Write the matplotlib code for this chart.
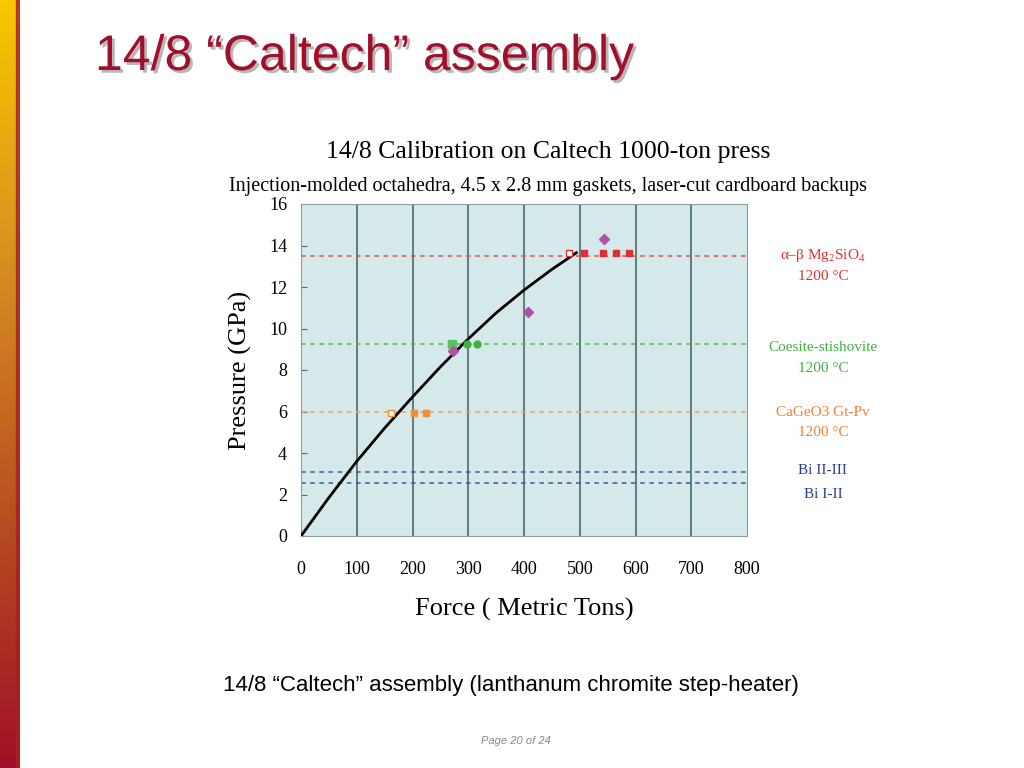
import numpy as np
import matplotlib
matplotlib.use("Agg")
import matplotlib.pyplot as plt
import matplotlib.patheffects as pe

# calibration curve (force in tons, pressure in GPa)
curve_force = [0, 50, 100, 150, 200, 250, 300, 350, 400, 450, 494]
curve_press = [0, 1.85, 3.6, 5.2, 6.7, 8.15, 9.5, 10.75, 11.85, 12.85, 13.65]

# fixed-point pressures (dashed lines)
line_press = [13.5, 9.25, 6.0, 3.1, 2.55]
line_colors = ["#e05050", "#4cb84c", "#f0a050", "#3a5a9c", "#3a5a9c"]

# experiments
mg_open_x, mg_open_y = [480], [13.62]
mg_fill_x = [507, 541, 565, 588]
mg_fill_y = [13.62, 13.62, 13.62, 13.62]
coe_x = [271, 297, 316]
coe_y = [9.27, 9.25, 9.25]
cage_open_x, cage_open_y = [162], [5.95]
cage_fill_x = [202, 225]
cage_fill_y = [5.95, 5.95]
dia_x = [272, 408, 543]
dia_y = [8.9, 10.8, 14.3]

x_ticks = [0, 100, 200, 300, 400, 500, 600, 700, 800]
y_ticks = [0, 2, 4, 6, 8, 10, 12, 14, 16]

serif = ["Liberation Serif", "DejaVu Serif"]
sans = ["Liberation Sans", "DejaVu Sans"]

matplotlib.rcParams["mathtext.fontset"] = "custom"
matplotlib.rcParams["mathtext.rm"] = "Liberation Serif"

fig = plt.figure(figsize=(10.24, 7.68), dpi=100)
fig.patch.set_facecolor("white")

# left gradient bar
bar = fig.add_axes([0, 0, 20 / 1024, 1])
grad = np.linspace(0, 1, 256).reshape(-1, 1)
cmap = matplotlib.colors.LinearSegmentedColormap.from_list("g", ["#f7c800", "#d89020", "#b85020", "#a01028"])
bar.imshow(grad, aspect="auto", cmap=cmap, extent=[0, 20, 0, 1])
bar.axvspan(16, 20, color="#a82020", alpha=0.8)
bar.set_xlim(0, 20)
bar.axis("off")

# slide title
fig.text(95 / 1024, 1 - 57 / 768, "14/8 \u201cCaltech\u201d assembly", family=sans,
         fontsize=36, color="#a0102a", ha="left", va="center",
         path_effects=[pe.withSimplePatchShadow(offset=(2, -2), shadow_rgbFace="#999999", alpha=0.7)])

ax = fig.add_axes([301 / 1024, 1 - 536 / 768, 446 / 1024, 332 / 768])
ax.set_facecolor("#d5e9ea")
ax.set_xlim(0, 800)
ax.set_ylim(0, 16)

for xv in x_ticks[1:-1]:
    ax.axvline(xv, color="#4a6a6a", lw=1.2, zorder=1)

for yv, c in zip(line_press, line_colors):
    ax.axhline(yv, color=c, lw=1.1, ls=(0, (3, 3)), zorder=2)

ax.plot(curve_force, curve_press, color="black", lw=2, zorder=3)

ax.plot(mg_open_x, mg_open_y, "s", ms=5, mfc="white", mec="#e03030", zorder=4)
ax.plot(mg_fill_x, mg_fill_y, "s", ms=5, color="#e03030", zorder=4)
ax.plot(coe_x[:1], coe_y[:1], "s", ms=6, color="#5cc05c", zorder=4)
ax.plot(coe_x[1:], coe_y[1:], "o", ms=5, color="#40b040", zorder=4)
ax.plot(cage_open_x, cage_open_y, "s", ms=5, mfc="white", mec="#f09030", zorder=4)
ax.plot(cage_fill_x, cage_fill_y, "s", ms=5, color="#f09030", zorder=4)
ax.plot(dia_x, dia_y, "D", ms=5.5, color="#b050a8", zorder=5)

ax.set_xticks(x_ticks)
ax.set_yticks(y_ticks)
ax.tick_params(axis="x", length=0, pad=18, labelsize=13)
ax.tick_params(axis="y", direction="in", length=4, pad=10, labelsize=13, color="#666666")
for lab in ax.get_xticklabels() + ax.get_yticklabels():
    lab.set_family(serif)
for s in ax.spines.values():
    s.set_color("#8aa0a0")

ax.set_xlabel("Force ( Metric Tons)", family=serif, fontsize=19, labelpad=14)
ax.set_ylabel("Pressure (GPa)", family=serif, fontsize=19, labelpad=12)

fig.text(548 / 1024, 1 - 152 / 768, "14/8 Calibration on Caltech 1000-ton press",
         family=serif, fontsize=18.5, ha="center", va="center")
fig.text(548 / 1024, 1 - 186 / 768,
         "Injection-molded octahedra, 4.5 x 2.8 mm gaskets, laser-cut cardboard backups",
         family=serif, fontsize=14.5, ha="center", va="center")

# right-hand labels
labels = [
    (256, "\u03b1\u2013\u03b2 Mg$_2$SiO$_4$", "#e03030"),
    (277, "1200 \u00b0C", "#e03030"),
    (347, "Coesite-stishovite", "#40b040"),
    (368, "1200 \u00b0C", "#40b040"),
    (412, "CaGeO3 Gt-Pv", "#f08030"),
    (433, "1200 \u00b0C", "#f08030"),
    (471, "Bi II-III", "#2a3a8c"),
    (494, "Bi I-II", "#2a3a8c"),
]
for yp, t, c in labels:
    fig.text(823 / 1024, 1 - yp / 768, t, family=serif, fontsize=11, color=c,
             ha="center", va="center")

fig.text(511 / 1024, 1 - 686 / 768,
         "14/8 \u201cCaltech\u201d assembly (lanthanum chromite step-heater)",
         family=sans, fontsize=16, ha="center", va="center")
fig.text(516 / 1024, 1 - 741 / 768, "Page 20 of 24", family=sans, fontsize=8,
         style="italic", color="#888888", ha="center", va="center")

fig.savefig("out.png", dpi=100)
